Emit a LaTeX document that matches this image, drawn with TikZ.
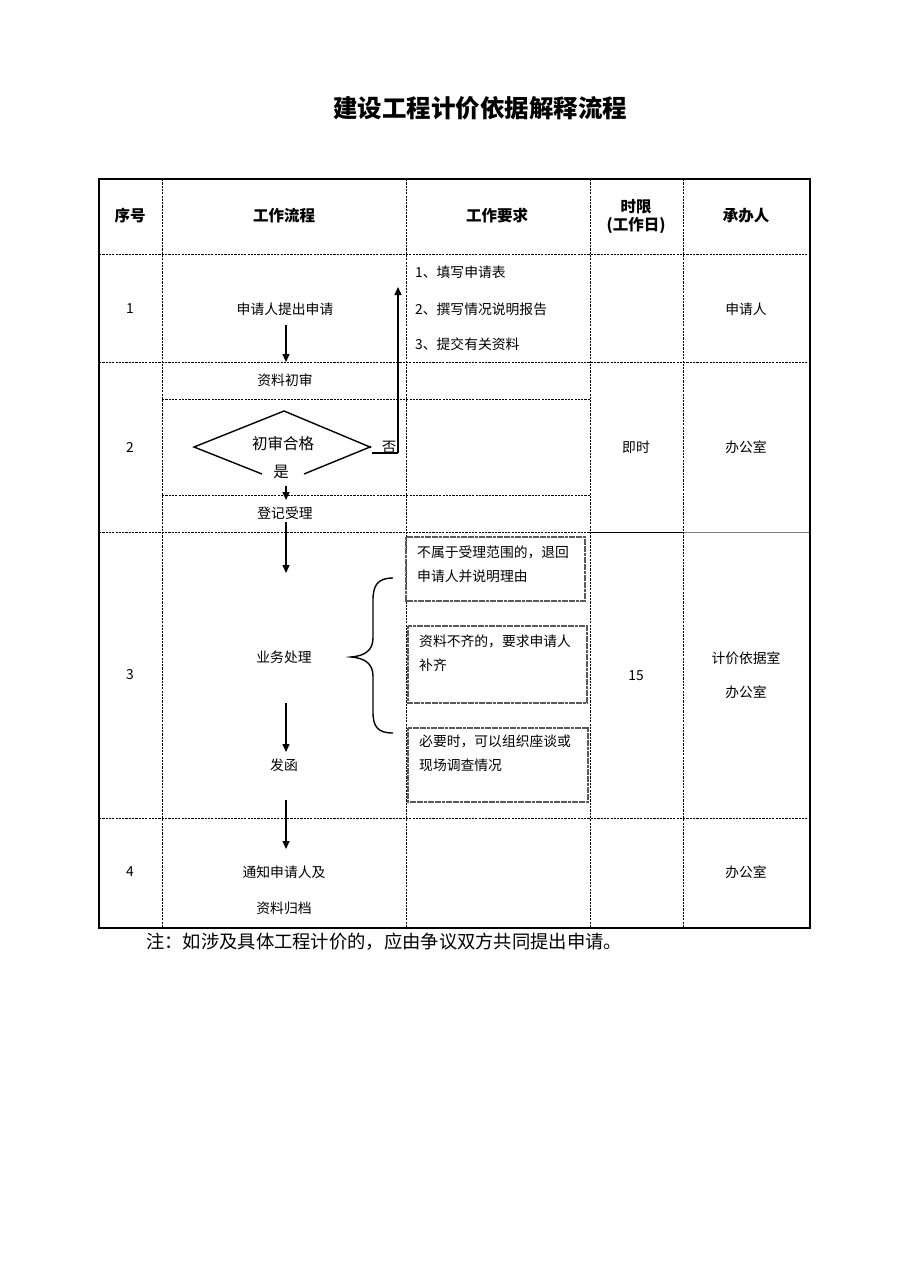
\documentclass[tikz,border=0pt]{standalone}
\usepackage{fontspec}
\setmainfont{Noto Sans CJK SC}
\usetikzlibrary{arrows.meta}
\begin{document}
\begin{tikzpicture}[x=1pt,y=-1pt,
  tline/.style={line width=1pt,dash pattern=on 2.2pt off 1.1pt,black},
  outer/.style={line width=2.5pt},
  arr/.style={line width=1.4pt,-{Triangle[length=8pt,width=7pt]}},
  conn/.style={line width=1.4pt},
  txt/.style={font=\fontsize{13.8}{16}\selectfont,inner sep=1pt},
  hdr/.style={font=\fontsize{15.5}{18}\selectfont\bfseries,inner sep=1pt,align=center},
  reqbox/.style={draw=black!65,line width=1.1pt,dash pattern=on 3pt off 0.6pt},
  boxtxt/.style={font=\fontsize{13.8}{24}\selectfont,inner sep=0pt,anchor=north west,align=left}
]
\useasboundingbox (0,0) rectangle (910,1287);
\fill[white] (0,0) rectangle (910,1287);

% title
\node[font=\fontsize{24.5}{27}\selectfont\bfseries] (title) at (480,108) {建设工程计价依据解释流程};

% inner lines
\draw[tline] (99,254) -- (810,254);
\draw[tline] (99,362) -- (810,362);
\draw[tline] (162,399) -- (590,399);
\draw[tline] (162,495) -- (590,495);
\draw[tline] (99,532) -- (590,532);
\draw[line width=1pt] (590,532) -- (683,532);
\draw[line width=1pt,black!50] (683,532) -- (810,532);
\draw[tline] (99,818) -- (810,818);
\foreach \x in {162,406,590,683} \draw[tline] (\x,179) -- (\x,928);
% outer border
\draw[outer] (99,179) rectangle (810,928);

% header
\node[hdr] (h1) at (130,216) {序号};
\node[hdr] (h2) at (284,216) {工作流程};
\node[hdr] (h3) at (497,216) {工作要求};
\node[hdr] (h4) at (636,217) {时限\\(工作日)};
\node[hdr] (h5) at (746,216) {承办人};

% row numbers
\node[txt] (r1) at (130,309) {1};
\node[txt] (r2) at (130,447) {2};
\node[txt] (r3) at (130,675) {3};
\node[txt] (r4) at (130,872) {4};

% time limits
\node[txt] (t2) at (636,447) {即时};
\node[txt] (t3) at (636,676) {15};

% persons
\node[txt] (p1) at (746,309) {申请人};
\node[txt] (p2) at (746,447) {办公室};
\node[txt] (p3a) at (746,658) {计价依据室};
\node[txt] (p3b) at (746,692) {办公室};
\node[txt] (p4) at (746,872) {办公室};

% requirements row 1
\node[txt,anchor=west] (q1) at (414,272) {1、填写申请表};
\node[txt,anchor=west] (q2) at (414,309) {2、撰写情况说明报告};
\node[txt,anchor=west] (q3) at (414,344) {3、提交有关资料};

% flow nodes
\node[txt] (n1) at (285,309) {申请人提出申请};
\node[txt] (n2) at (285,380) {资料初审};
\node[txt] (n3) at (285,513) {登记受理};
\node[txt] (n4) at (284,657) {业务处理};
\node[txt] (n5) at (284,765) {发函};
\node[txt,align=center,font=\fontsize{13.8}{36}\selectfont] (n6) at (284,890) {通知申请人及\\资料归档};

% decision diamond
\coordinate (dl) at (194,447);
\coordinate (dt) at (284,411);
\coordinate (dr) at (370,447);
\coordinate (dbl) at (262,474);
\coordinate (dbr) at (304,474);
\draw[line width=1.4pt] (dbl) -- (dl) -- (dt) -- (dr) -- (dbr);
\node[font=\fontsize{15.5}{17}\selectfont,inner sep=0pt] (dq) at (283,444) {初审合格};
\node[font=\fontsize{15.5}{17}\selectfont,inner sep=0pt] (yes) at (281,472) {是};
\node[font=\fontsize{14.5}{16}\selectfont,inner sep=0pt] (no) at (389,447) {否};
\fill (dr) circle (1.4pt);

% connectors
\coordinate (a1s) at (286,325);
\coordinate (a1e) at (286,362);
\draw[arr] (a1s) -- (a1e);

\coordinate (nb1) at (372,453);
\coordinate (nb2) at (398,453);
\coordinate (nb3) at (398,287);
\draw[conn] (nb1) -- (nb2);
\draw[arr] (nb2) -- (nb3);

\coordinate (a2s) at (286,486);
\coordinate (a2e) at (286,500);
\draw[arr] (a2s) -- (a2e);

\coordinate (a3s) at (286,522);
\coordinate (a3e) at (286,573);
\draw[arr] (a3s) -- (a3e);

\coordinate (a4s) at (286,703);
\coordinate (a4e) at (286,752);
\draw[arr] (a4s) -- (a4e);

\coordinate (a5s) at (286,800);
\coordinate (a5e) at (286,849);
\draw[arr] (a5s) -- (a5e);

% brace
\draw[line width=1.4pt] (393,578) .. controls (378,578) and (373,585) .. (373,600) -- (373,638)
  .. controls (373,650) and (365,656) .. (351,657)
  .. controls (365,658) and (373,664) .. (373,676) -- (373,712)
  .. controls (373,727) and (378,733) .. (393,733);

% requirement boxes row 3
\draw[reqbox] (406,537) rectangle (585,601);
\node[boxtxt] (b1) at (417,546) {不属于受理范围的，退回\\申请人并说明理由};
\draw[reqbox] (408,626) rectangle (587,703);
\node[boxtxt] (b2) at (419,635) {资料不齐的，要求申请人\\补齐};
\draw[reqbox] (408,728) rectangle (588,802);
\node[boxtxt] (b3) at (419,735) {必要时，可以组织座谈或\\现场调查情况};

% note
\node[font=\fontsize{18.3}{20}\selectfont,anchor=west,inner sep=0pt] (note) at (146,942) {注：如涉及具体工程计价的，应由争议双方共同提出申请。};
\end{tikzpicture}
\end{document}
